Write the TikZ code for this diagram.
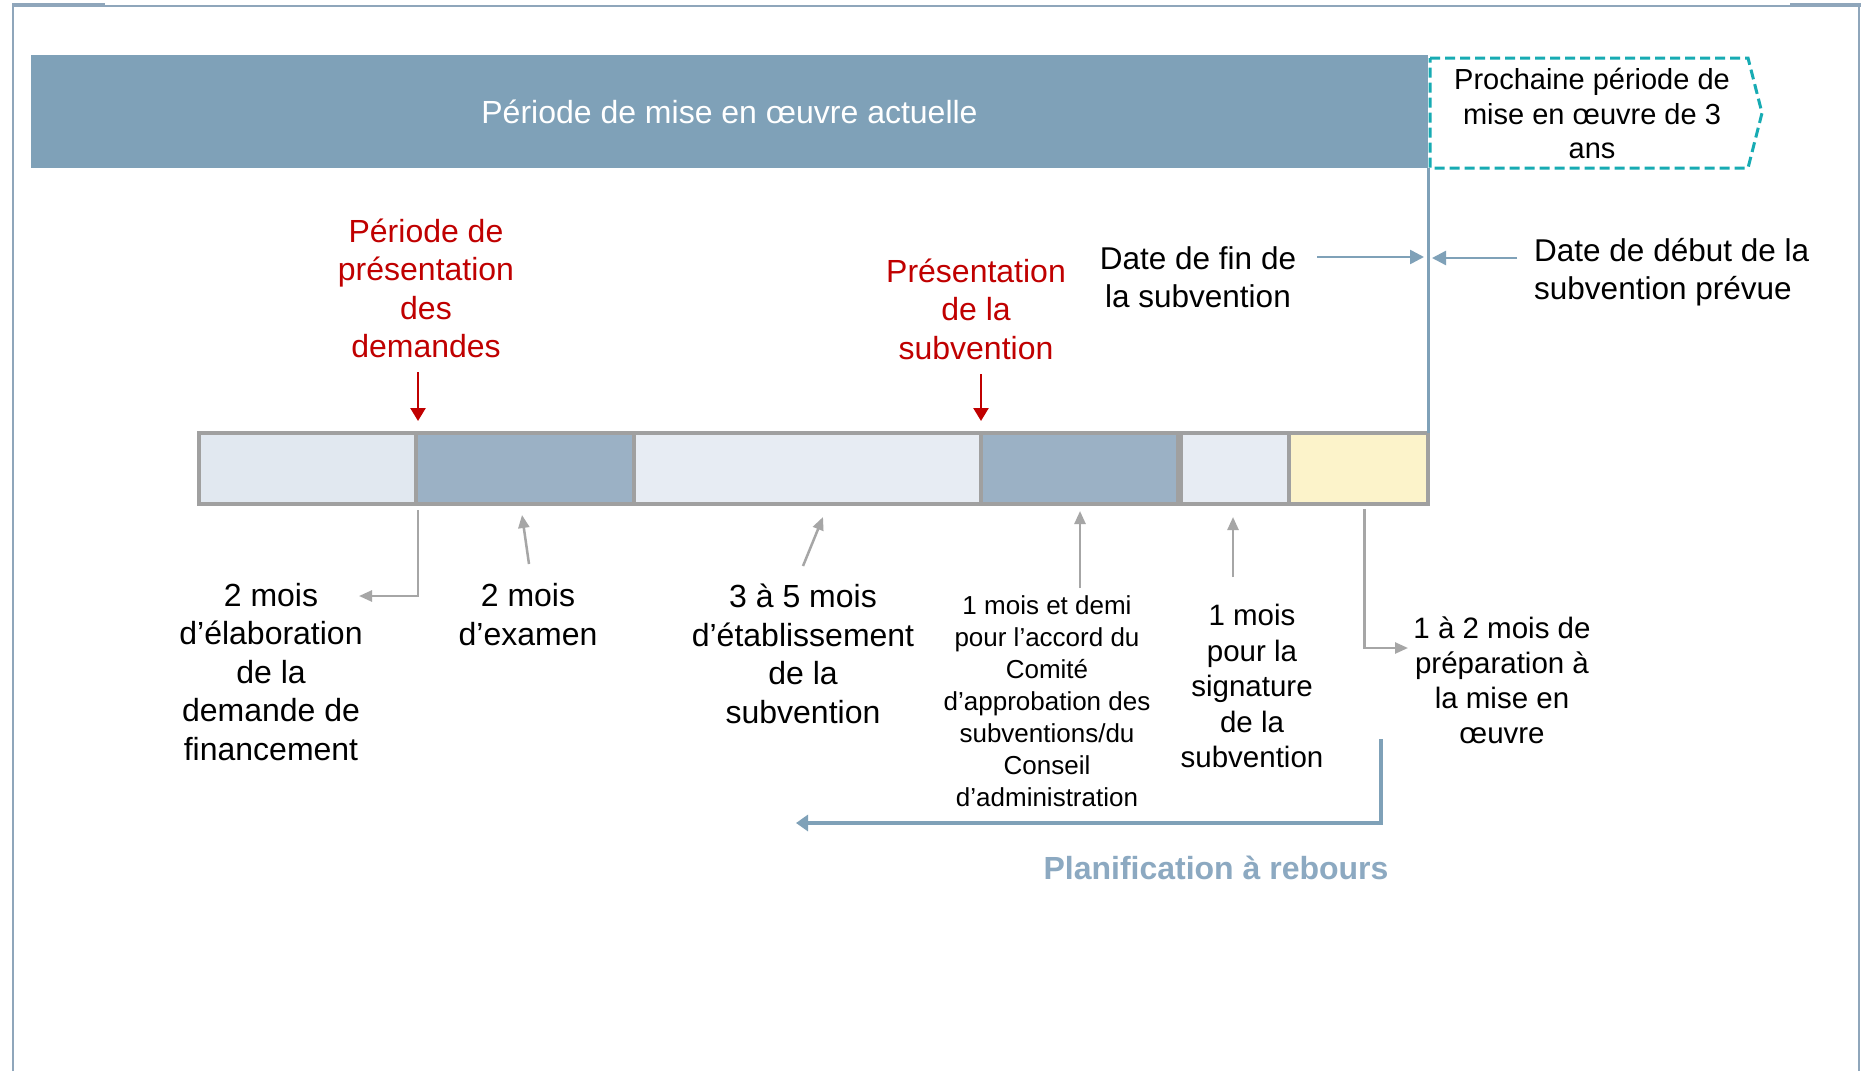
\documentclass[tikz,border=0pt]{standalone}
\usepackage{fontspec}
\setmainfont{Liberation Sans}
\usetikzlibrary{arrows.meta}
\definecolor{barblue}{HTML}{7FA1B8}
\definecolor{segdark}{HTML}{9BB1C5}
\definecolor{segla}{HTML}{E1E8F0}
\definecolor{seglb}{HTML}{E7ECF3}
\definecolor{segyel}{HTML}{FCF3CA}
\definecolor{segborder}{HTML}{A0A0A0}
\definecolor{tealdash}{HTML}{17ABB3}
\definecolor{darkred}{HTML}{C00000}
\definecolor{garrowc}{HTML}{A6A6A6}
\definecolor{frameblue}{HTML}{8FA6BB}
\definecolor{planblue}{HTML}{8CA9C1}
\begin{document}
\begin{tikzpicture}[x=1pt,y=-1pt,
  lab/.style={font=\fontsize{32pt}{38.5pt}\selectfont, align=center, inner sep=0pt},
  labm/.style={font=\fontsize{29.5pt}{35.5pt}\selectfont, align=center, inner sep=0pt},
  labs/.style={font=\fontsize{26pt}{32pt}\selectfont, align=center, inner sep=0pt},
  seg/.style={draw=segborder, line width=4pt, minimum height=71pt, inner sep=0pt, outer sep=0pt},
  redarr/.style={draw=darkred, line width=2.5pt, -{Triangle[length=13pt,width=15pt]}},
  barr/.style={draw=barblue, line width=2.5pt, -{Triangle[length=14pt,width=14pt]}},
  garr/.style={draw=garrowc, line width=2.5pt, -{Triangle[length=13pt,width=11pt]}},
  planarr/.style={draw=barblue, line width=4pt, -{Triangle[length=12pt,width=16pt]}},
]
\fill[white] (0,0) rectangle (1865,1071);
\useasboundingbox (0,0) rectangle (1865,1071);

% frame
\draw[frameblue, line width=2pt] (13,1071) -- (13,6) -- (1859,6) -- (1859,1071);
\draw[frameblue, line width=3.5pt] (12,5) -- (105,5);
\draw[frameblue, line width=3.5pt] (1790,5) -- (1861,5);

% current period bar
\node[fill=barblue, minimum width=1397pt, minimum height=113pt, inner sep=0pt, outer sep=0pt,
      text=white, font=\fontsize{32pt}{38pt}\selectfont] (bar) at (729.5,111.5)
      {\raisebox{-1pt}{Période de mise en œuvre actuelle}};

% next period (dashed pentagon)
\draw[tealdash, line width=3pt, dash pattern=on 10pt off 5pt]
  (1430,58) -- (1748,58) -- (1762,113) -- (1748,168) -- (1430,168) -- cycle;
\node[font=\fontsize{29pt}{34.5pt}\selectfont, align=center, inner sep=0pt] (next) at (1592,113.5)
  {Prochaine période de\\mise en œuvre de 3\\ans};

% timeline segments
\node[seg, fill=segla, minimum width=217pt] (s1) at (307.5,468.5) {};
\node[seg, fill=segdark, minimum width=218pt] (s2) at (525,468.5) {};
\node[seg, fill=seglb, minimum width=347pt] (s3) at (807.5,468.5) {};
\node[seg, fill=segdark, minimum width=197pt] (s4) at (1079.5,468.5) {};
\node[seg, fill=seglb, minimum width=108pt] (s5) at (1235,468.5) {};
\node[seg, fill=segyel, minimum width=139pt] (s6) at (1358.5,468.5) {};

% vertical end-date line
\draw[barblue, line width=3pt] (bar.south east) -- (s6.north east);

% red labels
\node[lab, text=darkred] (red1) at (426,288.5) {Période de\\présentation\\des\\demandes};
\node[lab, text=darkred] (red2) at (976,309) {Présentation\\de la\\subvention};
\coordinate (r1top) at (418,372);
\coordinate (r2top) at (981,374);
\draw[redarr] (r1top) -- ([xshift=2pt,yshift=12pt]s2.north west);
\draw[redarr] (r2top) -- ([yshift=12pt]s4.north west);

% date labels
\node[lab, font=\fontsize{31.5pt}{38pt}\selectfont] (dfin) at (1198,277.5) {Date de fin de\\la subvention};
\node[lab, font=\fontsize{31.5pt}{38pt}\selectfont, anchor=west, align=left] (ddeb) at (1534,272)
  {Date de début de la\\subvention prévue};
\coordinate (finA) at (1317,257);
\coordinate (finB) at (1424,257);
\coordinate (debA) at (1517,258);
\coordinate (debB) at (1432,258);
\draw[barr] (finA) -- (finB);
\draw[barr] (debA) -- (debB);

% bottom labels
\node[lab] (la) at (271,672) {2 mois\\d’élaboration\\de la\\demande de\\financement};
\node[lab] (lb) at (528,614.5) {2 mois\\d’examen};
\node[lab] (lc) at (803,654) {3 à 5 mois\\d’établissement\\de la\\subvention};
\node[labs] (ld) at (1047,701) {1 mois et demi\\pour l’accord du\\Comité\\d’approbation des\\subventions/du\\Conseil\\d’administration};
\node[labm] (le) at (1252,686) {1 mois\\pour la\\signature\\de la\\subvention};
\node[labm, font=\fontsize{29.5pt}{35pt}\selectfont] (lf) at (1502,680) {1 à 2 mois de\\préparation à\\la mise en\\œuvre};

% gray connectors
\coordinate (aTip) at (359,596);
\draw[garr] ([xshift=2pt,yshift=-6pt]s2.south west) |- (aTip);
\coordinate (bS) at (529,564); \coordinate (bT) at (522,515);
\draw[garr] (bS) -- (bT);
\coordinate (cS) at (803,566); \coordinate (cT) at (823,517);
\draw[garr] (cS) -- (cT);
\coordinate (dS) at (1080,588); \coordinate (dT) at (1080,511);
\draw[garr] (dS) -- (dT);
\coordinate (eS) at (1233,577); \coordinate (eT) at (1233,517);
\draw[garr] (eS) -- (eT);
\coordinate (fTip) at (1408,648);
\draw[garr] ([xshift=6pt,yshift=-5pt]s6.south) |- (fTip);

% backward planning
\coordinate (pS) at (1381,739);
\coordinate (pT) at (796,823);
\draw[planarr] (pS) |- (pT);
\node[font=\fontsize{32pt}{38pt}\selectfont\bfseries, text=planblue, inner sep=0pt] (plan) at (1216,868)
  {Planification à rebours};
\end{tikzpicture}
\end{document}
